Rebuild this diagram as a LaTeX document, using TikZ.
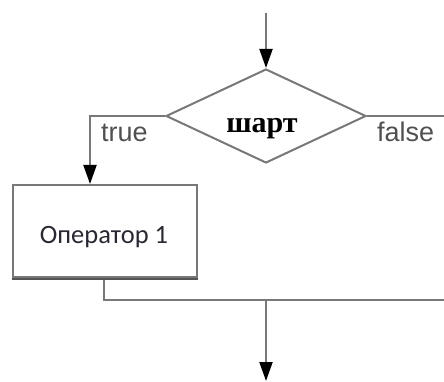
\documentclass[tikz,border=0pt]{standalone}
\usepackage{fontspec}
\setmainfont{Liberation Serif}
\newfontfamily\labelfont{Liberation Sans}
\newfontfamily\opfont{Carlito}
\usetikzlibrary{shapes.geometric,arrows.meta}
\definecolor{linegray}{RGB}{120,120,120}
\definecolor{labelgray}{RGB}{80,80,80}
\definecolor{optext}{RGB}{40,40,50}
\tikzset{
  flow/.style={draw=linegray, line width=2pt},
  arr/.style={flow, -{Triangle[width=13pt,length=19pt,fill=black,color=black]}},
  decision/.style={diamond, flow, inner sep=0pt, minimum width=200pt, minimum height=94pt},
  process/.style={rectangle, flow, inner sep=0pt, minimum width=184pt, minimum height=92pt},
  branchlabel/.style={font=\labelfont\fontsize{27}{27}\selectfont, text=labelgray, inner sep=0pt, anchor=base west},
}
\begin{document}
\begin{tikzpicture}[x=1pt, y=-1pt]
  \useasboundingbox (0,0) rectangle (444,382);

  % decision and process blocks
  \node[decision] (cond) at (266,116) {};
  \node[font=\bfseries\fontsize{30}{30}\selectfont, text=black, inner sep=0pt, anchor=base] (condtext) at (262,133) {шарт};
  \node[process] (op) at (105,231) {};
  % heavier bottom edge of the process block
  \draw[linegray!70!black, line width=2.5pt] ([yshift=-0.8pt]op.south west) -- ([yshift=-0.8pt]op.south east);
  \node[font=\opfont\fontsize{26.5}{26.5}\selectfont, text=optext, inner sep=0pt, anchor=base] (optxt) at (104,243) {Оператор 1};

  % branch labels
  \node[branchlabel] (tlabel) at (101,142) {true};
  \node[branchlabel] (flabel) at (377,142) {false};

  % helper points for the connectors
  \coordinate (in) at (266,13);
  \coordinate (lx) at (90,0);
  \coordinate (bx) at (104,0);
  \coordinate (fend) at (445,116);
  \coordinate (join) at (266,300);
  \coordinate (rend) at (445,300);
  \coordinate (out) at (266,381);

  % connectors
  \draw[arr] (in) -- (cond.north);
  \draw[arr] (cond.west) -| (lx |- op.north);
  \draw[flow] (cond.east) -- (fend);
  \draw[flow] ([yshift=-2pt]bx |- op.south) |- (rend);
  \draw[arr] (join) -- (out);
\end{tikzpicture}
\end{document}
